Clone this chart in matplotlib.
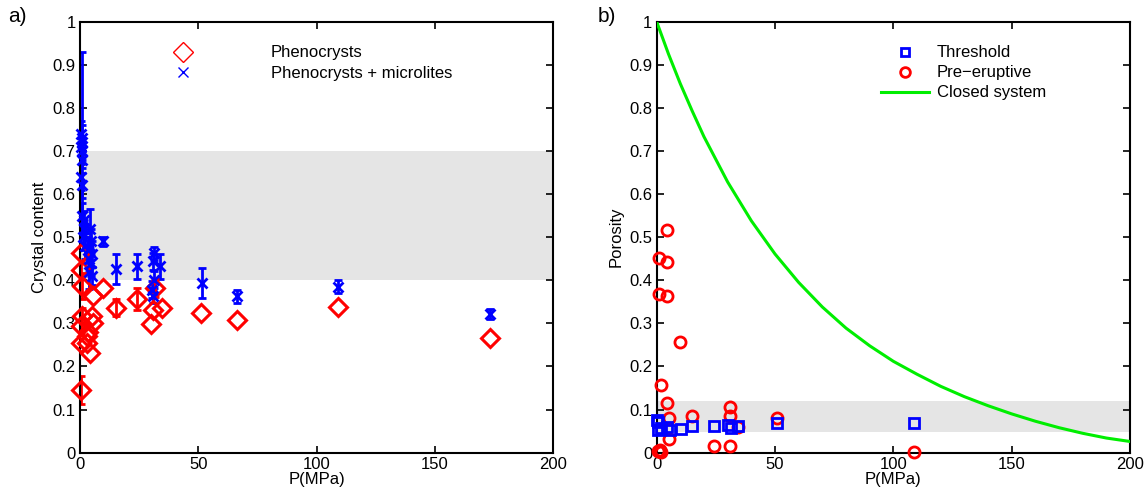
import matplotlib
matplotlib.use("Agg")
import matplotlib.pyplot as plt
import numpy as np

plt.rcParams['font.family'] = ['Liberation Sans', 'DejaVu Sans']
plt.rcParams['font.size'] = 12

# ---- panel a: crystal content vs pressure ----
# phenocrysts + microlites (blue x)
p_pm = [0.7, 0.6, 0.8, 0.5, 0.9, 0.7, 0.6, 0.8, 1.0, 1.5, 1.8, 1.2, 2.0,
        4.2, 4.5, 3.5, 5.0, 3.8, 4.8, 4.0, 5.2,
        9.9, 15.3, 24.1, 31.1, 30.8, 31.3, 30.6, 31.0, 34.0, 51.7, 66.3, 109.0, 173.3]
phi_pm = [0.72, 0.74, 0.73, 0.71, 0.70, 0.68, 0.64, 0.62, 0.55, 0.54, 0.52, 0.50, 0.48,
          0.52, 0.49, 0.47, 0.46, 0.45, 0.44, 0.42, 0.41,
          0.49, 0.427, 0.432, 0.463, 0.444, 0.401, 0.378, 0.363, 0.432, 0.394, 0.363, 0.385, 0.322]
err_pm = [0.21, 0.03, 0.03, 0.02, 0.02, 0.02, 0.03, 0.03, 0.03, 0.02, 0.02, 0.03, 0.03,
          0.045, 0.03, 0.03, 0.03, 0.03, 0.03, 0.04, 0.02,
          0.01, 0.035, 0.03, 0.015, 0.02, 0.02, 0.02, 0.015, 0.03, 0.035, 0.015, 0.015, 0.012]

# phenocrysts (red diamonds)
p_ph = [0.3, 0.5, 0.8, 1.0, 0.4, 0.6, 2.8, 4.2, 5.0, 5.3, 3.5, 2.8, 5.7, 0.5,
        9.9, 15.3, 24.1, 30.0, 30.9, 31.6, 34.7, 51.3, 66.3, 109.0, 173.3]
phi_ph = [0.463, 0.425, 0.387, 0.316, 0.295, 0.254, 0.254, 0.231, 0.316, 0.30, 0.281, 0.27, 0.363, 0.145,
          0.382, 0.336, 0.357, 0.299, 0.332, 0.382, 0.336, 0.324, 0.309, 0.339, 0.265]
err_ph = [0.0, 0.02, 0.03, 0.02, 0.02, 0.0, 0.0, 0.0, 0.0, 0.0, 0.0, 0.0, 0.0, 0.033,
          0.0, 0.02, 0.025, 0.0, 0.0, 0.02, 0.0, 0.0, 0.0, 0.0, 0.0]

band_a = (0.4, 0.7)

# ---- panel b: porosity vs pressure ----
p_thr = [0.3, 0.7, 0.7, 1.8, 4.3, 5.7, 10.2, 15.1, 24.3, 30.3, 31.3, 34.5, 51.0, 108.7]
por_thr = [0.075, 0.072, 0.053, 0.057, 0.060, 0.053, 0.054, 0.062, 0.061, 0.064, 0.058, 0.061, 0.068, 0.068]
err_thr_up = [0.07, 0, 0, 0, 0, 0, 0, 0, 0, 0, 0, 0, 0, 0]

p_pre = [4.3, 1.1, 4.5, 0.8, 4.5, 9.9, 1.7, 4.3, 5.4, 5.4, 15.1, 31.0, 31.0, 34.5,
         24.3, 30.8, 51.0, 0.5, 1.0, 1.5, 2.0, 108.7]
por_pre = [0.517, 0.451, 0.442, 0.368, 0.364, 0.256, 0.157, 0.115, 0.080, 0.032, 0.085, 0.107, 0.085, 0.060,
           0.016, 0.015, 0.080, 0.005, 0.003, 0.006, 0.002, 0.002]

p_closed = [0, 5, 10, 15, 20, 30, 40, 50, 60, 70, 80, 90, 100, 110,
            120, 130, 140, 150, 160, 170, 180, 190, 200]
por_closed = [1.0, 0.925, 0.856, 0.793, 0.733, 0.628, 0.538, 0.461, 0.395, 0.338, 0.289, 0.248, 0.212, 0.182,
              0.154, 0.130, 0.109, 0.090, 0.073, 0.058, 0.045, 0.034, 0.026]

band_b = (0.049, 0.121)

blue = '#0000ff'
red = '#ff0000'
green = '#00ee00'

fig = plt.figure(figsize=(11.48, 4.96), dpi=100)
ax1 = fig.add_axes([0.0697, 0.0873, 0.412, 0.869])
ax2 = fig.add_axes([0.572, 0.0873, 0.4124, 0.869])


def style(ax):
    ax.set_xlim(0, 200)
    ax.set_ylim(0, 1)
    ax.set_xticks([0, 50, 100, 150, 200])
    ax.set_yticks(np.arange(0, 1.01, 0.1))
    ax.set_yticklabels(['0', '0.1', '0.2', '0.3', '0.4', '0.5', '0.6', '0.7', '0.8', '0.9', '1'])
    ax.tick_params(direction='in', top=True, right=True, length=5, width=1.2, labelsize=12, pad=3)
    for s in ax.spines.values():
        s.set_linewidth(1.5)
    ax.set_xlabel('P(MPa)', fontsize=12, labelpad=0)


def bars(ax, x, y, e, col):
    x, y, e = np.array(x), np.array(y), np.array(e)
    m = e > 0
    ax.errorbar(x[m], y[m], yerr=e[m], fmt='none', ecolor=col, elinewidth=2,
                capsize=3, capthick=2, zorder=2)


# panel a
ax1.axhspan(band_a[0], band_a[1], color='#e5e5e5', lw=0, zorder=0)
bars(ax1, p_pm, phi_pm, err_pm, blue)
bars(ax1, p_ph, phi_ph, err_ph, red)
ax1.plot(p_ph, phi_ph, 'D', ms=9, mfc='none', mec=red, mew=2.2, zorder=3, clip_on=False)
ax1.plot(p_pm, phi_pm, 'x', ms=7, mec=blue, mew=2, zorder=4, clip_on=False)
h1, = ax1.plot([], [], 'D', ms=10, mfc='none', mec=red, mew=1)
h2, = ax1.plot([], [], 'x', ms=7, mec=blue, mew=1)
ax1.legend([h1, h2], ['Phenocrysts', 'Phenocrysts + microlites'], loc='upper left',
           bbox_to_anchor=(0.182, 0.945), frameon=False, borderpad=0, borderaxespad=0,
           handlelength=2, handletextpad=4.3, labelspacing=0.35, fontsize=12)
style(ax1)
ax1.set_ylabel('Crystal content', fontsize=12, labelpad=4)

# panel b
ax2.axhspan(band_b[0], band_b[1], color='#e5e5e5', lw=0, zorder=0)
ax2.errorbar(p_thr, por_thr, yerr=[np.zeros(len(err_thr_up)), err_thr_up], fmt='none',
             ecolor=blue, elinewidth=1.5, capsize=0, zorder=2)
ax2.plot(p_thr, por_thr, 's', ms=6.5, mfc='none', mec=blue, mew=2, zorder=4, clip_on=False)
ax2.plot(p_pre, por_pre, 'o', ms=8, mfc='none', mec=red, mew=2, zorder=3, clip_on=False)
ax2.plot(p_closed, por_closed, '-', color=green, lw=2.2, zorder=5)
g1, = ax2.plot([], [], 's', ms=6, mfc='none', mec=blue, mew=2)
g2, = ax2.plot([], [], 'o', ms=7, mfc='none', mec=red, mew=2)
g3, = ax2.plot([], [], '-', color=green, lw=2.2)
ax2.legend([g1, g2, g3], ['Threshold', 'Pre\u2212eruptive', 'Closed system'], loc='upper left',
           bbox_to_anchor=(0.474, 0.945), frameon=False, borderpad=0, borderaxespad=0,
           handlelength=2.9, handletextpad=0.45, labelspacing=0.3, fontsize=12)
style(ax2)
ax2.set_ylabel('Porosity', fontsize=12, labelpad=4)

fig.text(0.007, 0.955, 'a)', fontsize=15)
fig.text(0.521, 0.955, 'b)', fontsize=15)

fig.savefig('out.png', dpi=100)
